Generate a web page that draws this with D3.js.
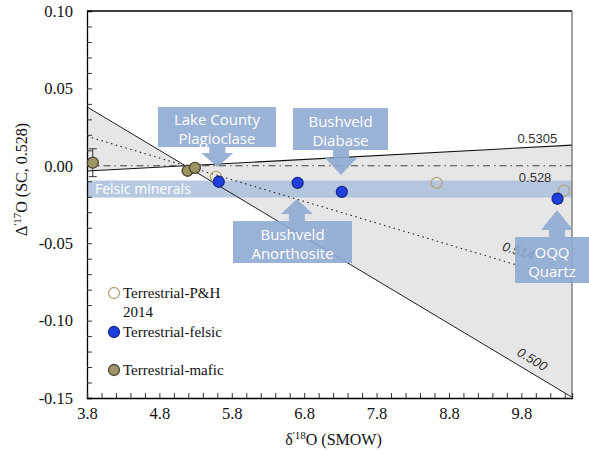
<!DOCTYPE html>
<html><head><meta charset="utf-8">
<script src="https://cdn.jsdelivr.net/npm/d3@7"></script>
<style>body{margin:0;background:#fff}svg{display:block}</style>
</head><body>
<svg id="c" width="589" height="452"></svg>
<script>
// ---- data ----
const xDomain = [3.8, 10.5];
const yDomain = [-0.15, 0.10];
const xMajorTicks = [3.8, 4.8, 5.8, 6.8, 7.8, 8.8, 9.8];
const yMajorTicks = [-0.15, -0.10, -0.05, 0.00, 0.05, 0.10];
const refPoint = [5.16, 0.0];
const lambdas = [0.5305, 0.528, 0.514, 0.500];
const lambdaLabels = ["0.5305", "0.528", "0.514", "0.500"];
const lambdaLabelPos = [[10.02, 0.0147], [9.99, -0.0105], [9.74, -0.0576], [9.92, -0.1274]];
const phX = [5.58, 8.63, 10.39];
const phY = [-0.0071, -0.011, -0.016];
const felsicX = [5.62, 6.71, 7.32, 10.30];
const felsicY = [-0.0103, -0.011, -0.0168, -0.0213];
const felsicErr = [0, 0, 0, 0.003];
const maficX = [3.88, 5.19, 5.29];
const maficY = [0.002, -0.0032, -0.0013];
const maficErr = [0.009, 0, 0];
const felsicBand = [-0.0205, -0.0095];
const legendLabels = [["Terrestrial-P&H", "2014"], ["Terrestrial-felsic"], ["Terrestrial-mafic"]];
// callouts in data units
const callouts = [
  {x0: 4.78, x1: 6.41, yt: 0.038, yb: 0.0121, tx: 5.60, ty: -0.0008, hb: 0.0083, dir: "down", lines: ["Lake County", "Plagioclase"]},
  {x0: 6.646, x1: 7.958, yt: 0.0373, yb: 0.0102, tx: 7.309, ty: -0.0059, hb: 0.005, dir: "down", lines: ["Bushveld", "Diabase"]},
  {x0: 5.817, x1: 7.461, yt: -0.0357, yb: -0.0628, tx: 6.70, ty: -0.0214, hb: -0.0311, dir: "up", lines: ["Bushveld", "Anorthosite"]},
  {x0: 9.713, x1: 10.735, yt: -0.046, yb: -0.0757, tx: 10.293, ty: -0.0286, hb: -0.0415, dir: "up", lines: ["OQQ", "Quartz"]}
];

// ---- chart ----
const svg = d3.select("#c");
const L = 87, R = 572, T = 11, B = 398;
const x = d3.scaleLinear().domain(xDomain).range([L, R]);
const y = d3.scaleLinear().domain(yDomain).range([B, T]);
const lineVal = (lam, xv) => (lam - 0.528) * (xv - refPoint[0]) + refPoint[1];

const defs = svg.append("defs");
defs.append("clipPath").attr("id", "plot").append("rect")
  .attr("x", L).attr("y", T).attr("width", R - L).attr("height", B - T);
const g = svg.append("g").attr("clip-path", "url(#plot)");

// wedge between 0.500 and 0.5305
const wx = [xDomain[0], refPoint[0], xDomain[1]];
g.append("path")
  .attr("d", d3.area().x(d => x(d)).y0(d => y(lineVal(0.500, d))).y1(d => y(lineVal(0.5305, d)))(wx))
  .attr("fill", "#e6e6e6");

// felsic band
g.append("rect").attr("x", L).attr("width", R - L)
  .attr("y", y(felsicBand[1])).attr("height", y(felsicBand[0]) - y(felsicBand[1]))
  .attr("fill", "#a9c0dc").attr("opacity", 0.85);

// fractionation lines
const styles = {0.5305: {dash: null, col: "#111", w: 1.1}, 0.528: {dash: "7,4,1.5,4", col: "#444", w: 1.1},
  0.514: {dash: "1.5,3.5", col: "#222", w: 1.1}, 0.500: {dash: null, col: "#222", w: 1}};
lambdas.forEach(lam => {
  const st = styles[lam];
  g.append("path")
    .attr("d", d3.line().x(d => x(d)).y(d => y(lineVal(lam, d)))(xDomain))
    .attr("fill", "none").attr("stroke", st.col).attr("stroke-width", st.w)
    .attr("stroke-dasharray", st.dash);
});

// "Felsic minerals" text
svg.append("text").attr("x", L + 8).attr("y", y((felsicBand[0] + felsicBand[1]) / 2) + 5)
  .attr("fill", "#fff").attr("font-family", "Open Sans").attr("font-size", 14).text("Felsic minerals");

// line labels
lambdas.forEach((lam, i) => {
  const [lx, ly] = lambdaLabelPos[i];
  const slopePx = (y(lineVal(lam, 1)) - y(lineVal(lam, 0))) / (x(1) - x(0));
  const ang = Math.atan(slopePx) * 180 / Math.PI;
  const t = svg.append("text").attr("text-anchor", "middle")
    .attr("font-family", "Liberation Sans, Arial").attr("font-size", 13).attr("fill", "#333")
    .attr("transform", `translate(${x(lx)},${y(ly)}) rotate(${lam < 0.52 ? ang : 0})`)
    .text(lambdaLabels[i]);
  if (lam < 0.52) t.attr("font-style", "italic");
});

// axes
const yAxis = d3.axisLeft(y).tickValues(d3.range(-15, 11).map(v => v / 100))
  .tickSize(-5).tickPadding(14)
  .tickFormat(d => yMajorTicks.some(m => Math.abs(m - d) < 1e-9) ? d3.format(".2f")(d).replace("−", "-") : "");
const ya = svg.append("g").attr("transform", `translate(${L},0)`).call(yAxis);
const xAxis = d3.axisBottom(x).tickValues(d3.range(0, 34).map(v => 3.8 + v * 0.2).filter(v => v <= 10.5 + 1e-9))
  .tickSize(-5).tickPadding(9)
  .tickFormat(d => xMajorTicks.some(m => Math.abs(m - d) < 1e-9) ? d3.format(".1f")(d) : "");
const xa = svg.append("g").attr("transform", `translate(0,${B})`).call(xAxis);
[ya, xa].forEach(a => {
  a.select(".domain").attr("stroke", "#000").attr("stroke-width", 1.3);
  a.selectAll(".tick line").attr("stroke", "#333");
  a.selectAll("text").attr("font-family", "Liberation Serif, Times New Roman").attr("font-size", 16.5).attr("fill", "#111");
});
// top and right frame
svg.append("line").attr("x1", L).attr("x2", R).attr("y1", T).attr("y2", T).attr("stroke", "#000").attr("stroke-width", 1.3);
svg.append("line").attr("x1", R).attr("x2", R).attr("y1", T).attr("y2", B).attr("stroke", "#666").attr("stroke-width", 1.2);

// axis titles
const xt = svg.append("text").attr("x", (L + R) / 2 + 4).attr("y", 445).attr("text-anchor", "middle")
  .attr("font-family", "Liberation Serif, Times New Roman").attr("font-size", 16).attr("fill", "#111");
xt.append("tspan").text("δ");
xt.append("tspan").attr("font-size", 11).attr("dy", -6).text("'18");
xt.append("tspan").attr("dy", 6).text("O (SMOW)");
const yt = svg.append("text").attr("transform", `translate(27,${(T + B) / 2 - 25}) rotate(-90)`).attr("text-anchor", "middle")
  .attr("font-family", "Liberation Serif, Times New Roman").attr("font-size", 16).attr("fill", "#111");
yt.append("tspan").text("Δ");
yt.append("tspan").attr("font-size", 11).attr("dy", -6).text("'17");
yt.append("tspan").attr("dy", 6).text("O (SC, 0.528)");

// error bars
const errG = svg.append("g").attr("stroke", "#333").attr("stroke-width", 1);
function errBars(xs, ys, es) {
  xs.forEach((xv, i) => {
    if (!es[i]) return;
    const px = x(xv);
    errG.append("line").attr("x1", px).attr("x2", px).attr("y1", y(ys[i] + es[i])).attr("y2", y(ys[i] - es[i]));
    [1, -1].forEach(s => errG.append("line").attr("x1", px - 4).attr("x2", px + 4)
      .attr("y1", y(ys[i] + s * es[i])).attr("y2", y(ys[i] + s * es[i])));
  });
}
errBars(maficX, maficY, maficErr);
errBars(felsicX, felsicY, felsicErr);

// points
const maficStyle = {fill: "#9d9466", stroke: "#4d4630"};
const felsicStyle = {fill: "#1f3fe0", stroke: "#1a2a8a"};
const phStyle = {fill: "none", stroke: "#b3a57a"};
function pts(xs, ys, st) {
  svg.append("g").selectAll("circle").data(xs).join("circle")
    .attr("cx", d => x(d)).attr("cy", (d, i) => y(ys[i])).attr("r", 5.5)
    .attr("fill", st.fill).attr("stroke", st.stroke).attr("stroke-width", 1.3);
}
pts(phX, phY, phStyle);
pts(maficX, maficY, maficStyle);
pts(felsicX, felsicY, felsicStyle);

// legend
const legStyles = [phStyle, felsicStyle, maficStyle];
const legY = [293, 332, 370];
legendLabels.forEach((lab, i) => {
  svg.append("circle").attr("cx", 114).attr("cy", legY[i]).attr("r", 5.5)
    .attr("fill", legStyles[i].fill).attr("stroke", legStyles[i].stroke).attr("stroke-width", 1.3);
  const t = svg.append("text").attr("x", 123).attr("y", legY[i] + 5)
    .attr("font-family", "Liberation Serif, Times New Roman").attr("font-size", 15).attr("fill", "#111");
  lab.forEach((s, j) => t.append("tspan").attr("x", 123).attr("dy", j ? 19 : 0).text(s));
});

// callouts
const cg = svg.append("g");
callouts.forEach(c => {
  const bx0 = x(c.x0), bx1 = x(c.x1), byt = y(c.yt), byb = y(c.yb);
  const tx = x(c.tx), ty = y(c.ty), hb = y(c.hb);
  const sw = 8, hw = 16;
  const start = c.dir === "down" ? byb : byt;
  const p = d3.path();
  p.moveTo(tx - sw, start); p.lineTo(tx - sw, hb); p.lineTo(tx - hw, hb);
  p.lineTo(tx, ty); p.lineTo(tx + hw, hb); p.lineTo(tx + sw, hb); p.lineTo(tx + sw, start); p.closePath();
  cg.append("path").attr("d", p.toString()).attr("fill", "#8eaad0").attr("opacity", 0.9);
  cg.append("rect").attr("x", bx0).attr("y", byt).attr("width", bx1 - bx0).attr("height", byb - byt)
    .attr("fill", "#8eaad0").attr("opacity", 0.9);
  const cx = (bx0 + bx1) / 2, h = byb - byt;
  c.lines.forEach((s, j) => {
    cg.append("text").attr("x", cx).attr("y", byt + h * 0.46 + j * 18.5).attr("text-anchor", "middle")
      .attr("font-family", "Open Sans").attr("font-size", 15).attr("fill", "#fff").text(s);
  });
});
</script>
</body></html>
